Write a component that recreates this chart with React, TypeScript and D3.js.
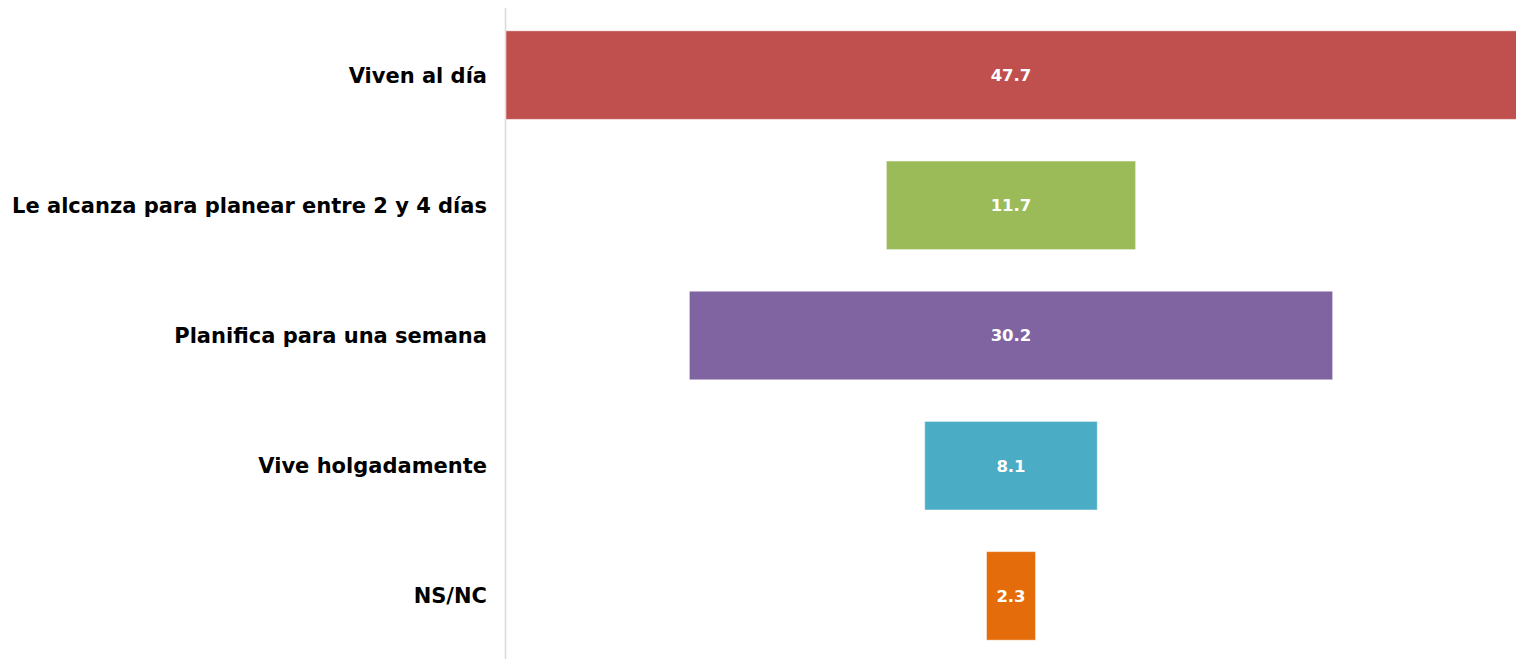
import React from "react";
import * as d3 from "d3";

const categories = [
  "Viven al día",
  "Le alcanza para planear entre 2 y 4 días",
  "Planifica para una semana",
  "Vive holgadamente",
  "NS/NC",
];
const values = [47.7, 11.7, 30.2, 8.1, 2.3];
const colors = ["#C0504D", "#9BBB59", "#8064A2", "#4BACC6", "#E46C0A"];

const W = 1516;
const H = 659;

export default function App() {
  const maxV = d3.max(values) as number;
  const x = d3.scaleLinear().domain([-maxV / 2, maxV / 2]).range([503, 1519]);
  const y = d3
    .scaleBand<string>()
    .domain(categories)
    .range([10, 661])
    .paddingInner(0.32)
    .paddingOuter(0.16);
  const font = "'DejaVu Sans', sans-serif";
  return (
    <svg
      width={W}
      height={H}
      style={{ position: "absolute", left: 0, top: 0, background: "#fff" }}
    >
      <line x1={505.5} x2={505.5} y1={8} y2={H} stroke="#D9D9D9" strokeWidth={1.5} />
      {categories.map((c, i) => {
        const v = values[i];
        const y0 = y(c) as number;
        const bw = y.bandwidth();
        const x0 = Math.max(x(-v / 2), 506);
        const x1 = x(v / 2);
        return (
          <g key={c}>
            <rect
              x={x0}
              y={y0}
              width={x1 - x0}
              height={bw}
              fill={colors[i]}
              stroke="rgba(255,255,255,0.45)"
              strokeWidth={1}
            />
            <text
              x={(x(-v / 2) + x1) / 2}
              y={y0 + bw / 2}
              dy="0.36em"
              textAnchor="middle"
              fill="#fff"
              fontFamily={font}
              fontWeight={700}
              fontSize={16.5}
            >
              {v.toFixed(1)}
            </text>
            <text
              x={487}
              y={y0 + bw / 2}
              dy="0.36em"
              textAnchor="end"
              fill="#000"
              fontFamily={font}
              fontWeight={700}
              fontSize={21}
            >
              {c}
            </text>
          </g>
        );
      })}
    </svg>
  );
}
